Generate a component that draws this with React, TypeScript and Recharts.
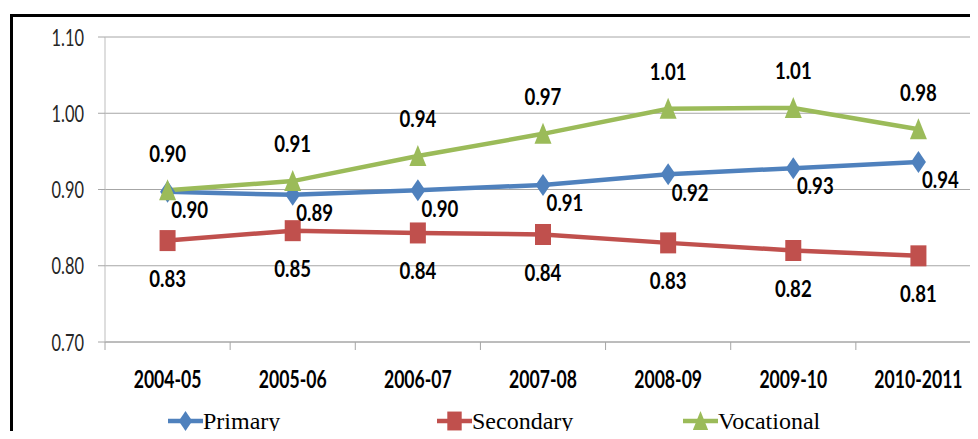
import React from 'react';
import { LineChart, Line, XAxis, YAxis, CartesianGrid, Legend, LabelList } from 'recharts';

const categories = ['2004-05', '2005-06', '2006-07', '2007-08', '2008-09', '2009-10', '2010-2011'];
const primary = [0.897, 0.893, 0.899, 0.906, 0.92, 0.928, 0.936];
const secondary = [0.833, 0.846, 0.843, 0.841, 0.83, 0.82, 0.813];
const vocational = [0.899, 0.911, 0.944, 0.973, 1.006, 1.007, 0.979];
const yTicks = [0.7, 0.8, 0.9, 1.0, 1.1];
const seriesNames = ['Primary', 'Secondary', 'Vocational'];

const COLORS = { Primary: '#4F81BD', Secondary: '#C0504D', Vocational: '#9BBB59' };

const data = categories.map((cat, i) => ({
  cat,
  Primary: primary[i],
  Secondary: secondary[i],
  Vocational: vocational[i],
}));

const W = 1001;
const H = 439;
const MARGIN = { top: 37, right: 20, bottom: 0, left: 0 };
const Y_AXIS_W = 105;
const PLOT_H = 305;
const LEGEND_H = 40;
const X_AXIS_H = H - MARGIN.top - PLOT_H - LEGEND_H;
const BAND = (W - MARGIN.left - MARGIN.right - Y_AXIS_W) / categories.length;
const X_TICK_SIZE = 8;
const LEGEND_X = [168, 437, 683];
const SANS = 'Lato, "Open Sans", sans-serif';
const GRID = '#A6A6A6';

const YTick = (props: any) => {
  const { x, y, payload } = props;
  return (
    <g transform={`translate(${x - 12},${y}) scale(1,1.44)`}>
      <text x={0} y={0} dy="0.36em" textAnchor="end" fontFamily={SANS} fontSize={16.4} fill="#262626">
        {Number(payload.value).toFixed(2)}
      </text>
    </g>
  );
};

const XTick = (props: any) => {
  const { x, y, payload, index } = props;
  const axisY = y - X_TICK_SIZE;
  return (
    <g>
      <line x1={x - BAND / 2} x2={x - BAND / 2} y1={axisY} y2={axisY + 8} stroke={GRID} />
      {index === categories.length - 1 && (
        <line x1={x + BAND / 2} x2={x + BAND / 2} y1={axisY} y2={axisY + 8} stroke={GRID} />
      )}
      <g transform={`translate(${x},${axisY + 37}) scale(1,1.42)`}>
        <text x={0} y={0} dy="0.36em" textAnchor="middle" fontFamily={SANS} fontWeight={700} fontSize={17.6} fill="#000">
          {payload.value}
        </text>
      </g>
    </g>
  );
};

const makeLabel = (dx: number, dy: number) => (props: any) => {
  const { x, y, value } = props;
  return (
    <g transform={`translate(${x + dx},${y + dy}) scale(1,1.24)`}>
      <text x={0} y={0} dy="0.36em" textAnchor="middle" fontFamily={SANS} fontWeight={700} fontSize={18.6} fill="#000">
        {Number(value).toFixed(2)}
      </text>
    </g>
  );
};

const Marker = ({ name, cx, cy, s = 1 }: { name: string; cx: number; cy: number; s?: number }) => {
  const c = (COLORS as any)[name];
  if (name === 'Primary') {
    return (
      <polygon
        points={`${cx},${cy - 11 * s} ${cx + 7.5 * s},${cy} ${cx},${cy + 11 * s} ${cx - 7.5 * s},${cy}`}
        fill={c}
      />
    );
  }
  if (name === 'Secondary') {
    return <rect x={cx - 8 * s} y={cy - 10.5 * s} width={16 * s} height={21 * s} fill={c} />;
  }
  return (
    <polygon
      points={`${cx},${cy - 11 * s} ${cx + 8.5 * s},${cy + 10 * s} ${cx - 8.5 * s},${cy + 10 * s}`}
      fill={c}
    />
  );
};

const makeDot = (name: string) => (p: any) => {
  if (p.cx == null || p.cy == null) return <g key={`${name}-${p.index}`} />;
  return (
    <g key={`${name}-${p.index}`}>
      <Marker name={name} cx={p.cx} cy={p.cy} />
    </g>
  );
};

const LegendContent = () => (
  <div
    style={{
      position: 'relative',
      height: LEGEND_H,
      width: W,
      fontFamily: '"Liberation Serif", "Times New Roman", serif',
      fontSize: 24,
      color: '#000',
    }}
  >
    {seriesNames.map((n, i) => (
      <div
        key={n}
        style={{ position: 'absolute', left: LEGEND_X[i], top: 2, height: LEGEND_H, display: 'flex', alignItems: 'center' }}
      >
        <svg width={35} height={24} style={{ display: 'block' }}>
          <line x1={0} x2={35} y1={12} y2={12} stroke={(COLORS as any)[n]} strokeWidth={4.5} />
          <Marker name={n} cx={17.5} cy={12} s={0.9} />
        </svg>
        <span style={{ lineHeight: '24px', whiteSpace: 'nowrap' }}>{n}</span>
      </div>
    ))}
  </div>
);

const labelOffsets: Record<string, [number, number]> = {
  Primary: [22, 18],
  Secondary: [0, 38],
  Vocational: [0, -37],
};

export default function App() {
  return (
    <div style={{ position: 'relative', width: 978, height: 439, margin: -8, overflow: 'hidden', background: '#fff' }}>
      <div
        style={{
          position: 'absolute',
          left: 10,
          top: 14,
          width: 2000,
          height: 1000,
          borderTop: '3px solid #000',
          borderLeft: '3px solid #000',
        }}
      />
      <div style={{ position: 'absolute', left: 0, top: 0, width: W, height: H }}>
        <LineChart width={W} height={H} data={data} margin={MARGIN}>
          <CartesianGrid vertical={false} stroke={GRID} />
          <XAxis
            dataKey="cat"
            scale="band"
            height={X_AXIS_H}
            axisLine={{ stroke: GRID }}
            tickLine={false}
            tickSize={X_TICK_SIZE}
            tickMargin={0}
            interval={0}
            tick={<XTick />}
          />
          <YAxis
            width={Y_AXIS_W}
            domain={[0.7, 1.1]}
            ticks={yTicks}
            axisLine={{ stroke: '#BDBDBD' }}
            tickLine={{ stroke: GRID }}
            tickSize={7}
            tickMargin={2}
            tick={<YTick />}
            allowDataOverflow
          />
          <Legend
            verticalAlign="bottom"
            content={<LegendContent />}
            wrapperStyle={{ left: 0, bottom: 0, width: W, height: LEGEND_H }}
          />
          {seriesNames.map((n) => (
            <Line
              key={n}
              type="linear"
              dataKey={n}
              stroke={(COLORS as any)[n]}
              strokeWidth={4.5}
              dot={makeDot(n)}
              activeDot={false}
              isAnimationActive={false}
            >
              <LabelList dataKey={n} content={makeLabel(labelOffsets[n][0], labelOffsets[n][1])} />
            </Line>
          ))}
        </LineChart>
      </div>
    </div>
  );
}
